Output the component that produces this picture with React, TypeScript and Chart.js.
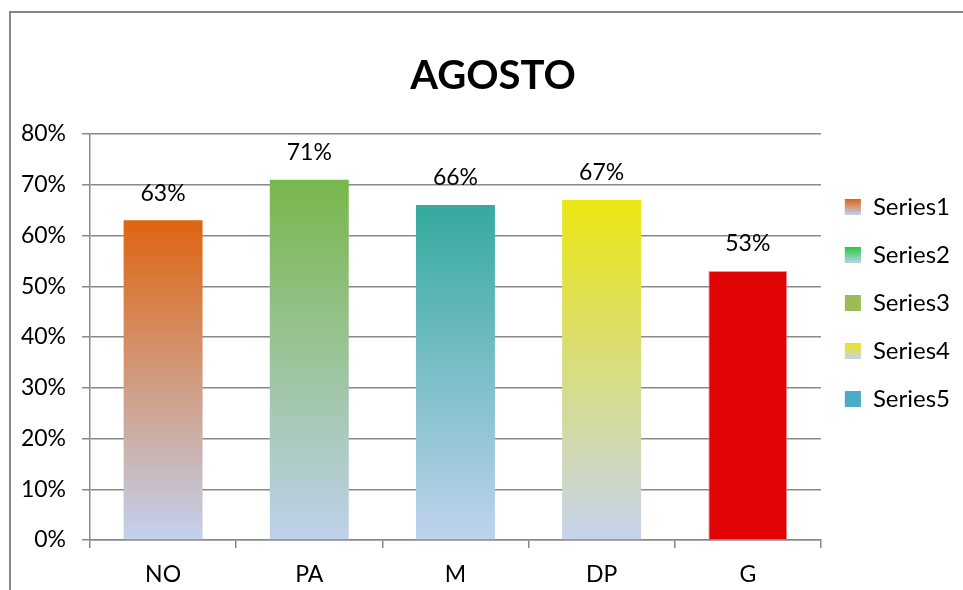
import React, { useEffect, useRef } from "react";
import { Chart, registerables } from "chart.js";

Chart.register(...registerables);

const chartTitle = "AGOSTO";
const categories = ["NO", "PA", "M", "DP", "G"];
const values = [0.63, 0.71, 0.66, 0.67, 0.53];
const seriesNames = ["Series1", "Series2", "Series3", "Series4", "Series5"];
const barTopColors = ["#DE6410", "#78B74A", "#35AA9F", "#EAE612", "#E00404"];
const barBottomColors = ["#C3D2EE", "#BFD1EC", "#C0D3EE", "#C6D3EC", "#E00404"];
const barBorderColors = ["rgba(0,0,0,0)", "rgba(0,0,0,0)", "rgba(0,0,0,0)", "rgba(0,0,0,0)", "#F09494"];
const legendTopColors = ["#DE6410", "#22CC3A", "#9BBB59", "#EEE60C", "#4BACC6"];
const legendBottomColors = ["#C3D2EE", "#B9D1EC", "#9BBB59", "#C6D3EC", "#4BACC6"];
const yMin = 0;
const yMax = 0.8;
const yStep = 0.1;

const FONT = "Lato";
const GRID = "#898989";
const LEGEND_FONT = 24;

const pct = (v: number) => Math.round(v * 100) + "%";

const dataLabelPlugin = {
  id: "dataLabelPlugin",
  afterDatasetsDraw(chart: any) {
    const ctx = chart.ctx;
    ctx.save();
    ctx.font = `23px ${FONT}`;
    ctx.fillStyle = "#000";
    ctx.textAlign = "center";
    ctx.textBaseline = "middle";
    chart.data.datasets.forEach((ds: any, i: number) => {
      const meta = chart.getDatasetMeta(i);
      meta.data.forEach((el: any, j: number) => {
        const v = ds.data[j];
        if (v == null) return;
        ctx.fillText(pct(v), el.x, el.y - 27);
      });
    });
    ctx.restore();
  },
};

const titleShiftPlugin = {
  id: "titleShiftPlugin",
  afterLayout(chart: any) {
    const t = chart.titleBlock;
    if (t) {
      t.left += 5;
      t.right += 5;
    }
  },
};

const legendSwatchPlugin = {
  id: "legendSwatchPlugin",
  afterDraw(chart: any) {
    const legend = chart.legend;
    if (!legend || !legend.legendHitBoxes) return;
    const ctx = chart.ctx;
    const boxW = 16;
    const boxH = 16;
    legend.legendHitBoxes.forEach((hb: any, i: number) => {
      const x = hb.left;
      const y = hb.top + Math.max((LEGEND_FONT - boxH) / 2, 0);
      const g = ctx.createLinearGradient(0, y, 0, y + boxH);
      g.addColorStop(0, legendTopColors[i]);
      g.addColorStop(1, legendBottomColors[i]);
      ctx.save();
      ctx.fillStyle = "#fff";
      ctx.fillRect(x, y, boxW, boxH);
      ctx.fillStyle = g;
      ctx.fillRect(x, y, boxW, boxH);
      ctx.restore();
    });
  },
};

export default function App() {
  const canvasRef = useRef<HTMLCanvasElement | null>(null);

  useEffect(() => {
    const canvas = canvasRef.current;
    if (!canvas) return;
    Chart.defaults.font.family = FONT;

    const datasets = seriesNames.map((name, i) => ({
      label: name,
      data: categories.map((_, j) => (j === i ? values[i] : null)),
      backgroundColor: (c: any) => {
        const chart = c.chart;
        const ys = chart.scales && chart.scales.y;
        if (!ys || c.raw == null) return barTopColors[i];
        const top = ys.getPixelForValue(c.raw);
        const bottom = ys.getPixelForValue(0);
        if (!isFinite(top) || !isFinite(bottom)) return barTopColors[i];
        const g = chart.ctx.createLinearGradient(0, top, 0, bottom);
        g.addColorStop(0, barTopColors[i]);
        g.addColorStop(1, barBottomColors[i]);
        return g;
      },
      borderColor: barBorderColors[i],
      borderWidth: i === 4 ? 1 : 0,
      barPercentage: 0.54,
      categoryPercentage: 1.0,
    }));

    const chart = new Chart(canvas, {
      type: "bar",
      data: { labels: categories, datasets },
      options: {
        responsive: false,
        animation: false,
        devicePixelRatio: 1,
        layout: { padding: { left: 16, right: 3, top: 16, bottom: 0 } },
        plugins: {
          title: {
            display: true,
            text: chartTitle,
            color: "#000",
            font: { family: FONT, size: 40, weight: "bold" },
            padding: { top: 36.5, bottom: 33.5 },
          },
          legend: {
            display: true,
            position: "right",
            fullSize: true,
            align: "center",
            labels: {
              color: "#000",
              font: { family: FONT, size: LEGEND_FONT },
              boxWidth: 16,
              boxHeight: 16,
              padding: 24,
              generateLabels: () =>
                seriesNames.map((n, i) => ({
                  text: n,
                  fillStyle: legendTopColors[i],
                  strokeStyle: "rgba(0,0,0,0)",
                  lineWidth: 0,
                  hidden: false,
                  datasetIndex: i,
                  fontColor: "#000",
                })),
            },
          },
          tooltip: { enabled: false },
        },
        scales: {
          x: {
            stacked: true,
            ticks: { color: "#000", font: { family: FONT, size: 23 }, padding: 13 },
            grid: {
              display: true,
              drawOnChartArea: false,
              drawTicks: true,
              tickLength: 8,
              color: GRID,
              lineWidth: 1.5,
              offset: true,
            },
            border: { display: true, color: GRID, width: 1.5 },
            afterFit: (s: any) => {
              s.height = 50;
            },
          },
          y: {
            stacked: true,
            min: yMin,
            max: yMax,
            ticks: {
              stepSize: yStep,
              color: "#000",
              font: { family: FONT, size: 23 },
              padding: 16,
              callback: (v: any) => pct(Number(v)),
            },
            grid: { color: GRID, lineWidth: 1.5, tickLength: 8, drawTicks: true },
            border: { display: true, color: GRID, width: 1.5 },
            afterFit: (s: any) => {
              s.width = 74;
            },
          },
        },
      },
      plugins: [dataLabelPlugin, legendSwatchPlugin, titleShiftPlugin],
    } as any);

    return () => chart.destroy();
  }, []);

  return (
    <div
      style={{
        position: "fixed",
        left: 0,
        top: 0,
        width: 963,
        height: 590,
        overflow: "hidden",
        background: "#fff",
      }}
    >
      <div
        style={{
          position: "absolute",
          left: 9,
          top: 11,
          width: 2000,
          height: 2000,
          border: "2px solid #868686",
        }}
      />
      <canvas
        ref={canvasRef}
        width={963}
        height={590}
        style={{ position: "absolute", left: 0, top: 0, width: 963, height: 590 }}
      />
    </div>
  );
}
